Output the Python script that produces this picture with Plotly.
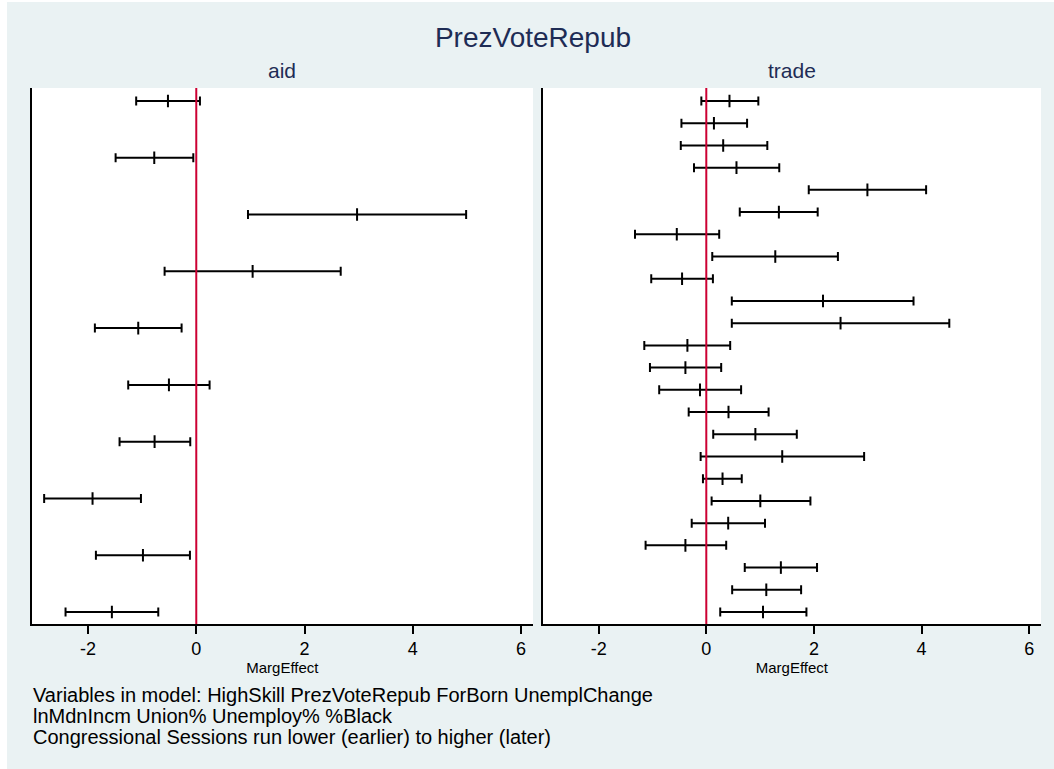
import plotly.graph_objects as go

W, H = 1054, 769

# ---- data (listed top row to bottom row) ----
aid_row = [10, 9, 8, 7, 6, 5, 4, 3, 2, 1]
aid_lo = [-1.11, -1.49, 0.955, -0.585, -1.873, -1.257, -1.417, -2.81, -1.854, -2.415]
aid_est = [-0.523, -0.776, 2.97, 1.041, -1.072, -0.505, -0.77, -1.916, -0.985, -1.559]
aid_hi = [0.068, -0.055, 4.985, 2.668, -0.271, 0.246, -0.111, -1.022, -0.117, -0.702]

trade_row = [24, 23, 22, 21, 20, 19, 18, 17, 16, 15, 14, 13,
             12, 11, 10, 9, 8, 7, 6, 5, 4, 3, 2, 1]
trade_lo = [-0.092, -0.462, -0.474, -0.228, 1.904, 0.622, -1.325, 0.111, -1.023, 0.474, 0.474, -1.152,
            -1.047, -0.875, -0.327, 0.129, -0.105, -0.062, 0.099, -0.271, -1.128, 0.715, 0.481, 0.259]
trade_est = [0.431, 0.142, 0.314, 0.561, 2.994, 1.349, -0.548, 1.282, -0.45, 2.169, 2.495, -0.351,
             -0.388, -0.117, 0.413, 0.912, 1.411, 0.302, 1.004, 0.407, -0.388, 1.386, 1.115, 1.054]
trade_hi = [0.967, 0.758, 1.134, 1.356, 4.085, 2.07, 0.24, 2.446, 0.123, 3.851, 4.516, 0.444,
            0.277, 0.647, 1.158, 1.682, 2.933, 0.659, 1.935, 1.091, 0.37, 2.058, 1.762, 1.861]

x_tickvals = [-2, 0, 2, 4, 6]
x_ticktext = ["-2", "0", "2", "4", "6"]
panel_titles = ["aid", "trade"]
main_title = "PrezVoteRepub"
x_title = "MargEffect"
note_lines = [
    "Variables in model: HighSkill PrezVoteRepub ForBorn UnemplChange",
    "lnMdnIncm Union% Unemploy% %Black",
    "Congressional Sessions run lower (earlier) to higher (later)",
]

# ---- styling ----
FONT = "Liberation Sans, Arial, sans-serif"
BG = "#EAF2F3"
NAVY = "#1e2c55"
RED = "#CC0033"

xd1 = [31.7 / W, 533 / W]
xd2 = [542.7 / W, 1041 / W]
yd = [1 - 624 / H, 1 - 88 / H]
xrange = [-3.04, 6.22]
aid_yrange = [1 - 12 / 56.78, 10 + 13 / 56.78]
trade_yrange = [1 - 12 / 22.217, 24 + 13 / 22.217]

fig = go.Figure()


def add_panel(rows, lo, est, hi, xa, ya):
    fig.add_trace(go.Scatter(
        x=est, y=rows, mode="markers", xaxis=xa, yaxis=ya,
        marker=dict(symbol="line-ns", size=9, color="black",
                    line=dict(width=2, color="black")),
        error_x=dict(type="data", symmetric=False,
                     array=[h - e for h, e in zip(hi, est)],
                     arrayminus=[e - l for e, l in zip(est, lo)],
                     color="black", thickness=2, width=4.5),
        showlegend=False, hoverinfo="x+y",
    ))


add_panel(aid_row, aid_lo, aid_est, aid_hi, "x", "y")
add_panel(trade_row, trade_lo, trade_est, trade_hi, "x2", "y2")

xcommon = dict(range=xrange, tickvals=x_tickvals, ticktext=x_ticktext,
               showline=True, linecolor="black", linewidth=1.5,
               ticks="outside", ticklen=8, tickwidth=1.5, tickcolor="black",
               showgrid=False, zeroline=False,
               tickfont=dict(family=FONT, size=18, color="black"),
               title=dict(text=x_title, font=dict(family=FONT, size=15, color="black"),
                          standoff=0))
ycommon = dict(showline=True, linecolor="black", linewidth=1.5,
               showticklabels=False, ticks="", showgrid=False, zeroline=False,
               domain=yd)

fig.update_layout(
    width=W, height=H,
    margin=dict(l=0, r=0, t=0, b=0),
    paper_bgcolor="white",
    plot_bgcolor="white",
    font=dict(family=FONT, color="black"),
    xaxis=dict(domain=xd1, anchor="y", **xcommon),
    xaxis2=dict(domain=xd2, anchor="y2", **xcommon),
    yaxis=dict(anchor="x", range=aid_yrange, **ycommon),
    yaxis2=dict(anchor="x2", range=trade_yrange, **ycommon),
    title=dict(text=main_title, x=533 / W, xanchor="center",
               y=1 - 36.7 / H, yanchor="middle", yref="container",
               font=dict(family=FONT, size=28, color=NAVY)),
    showlegend=False,
)

shapes = [
    dict(type="rect", xref="paper", yref="paper", x0=7 / W, x1=1, y0=0, y1=1 - 2 / H,
         fillcolor=BG, line=dict(width=0), layer="below"),
    dict(type="rect", xref="x domain", yref="y domain", x0=0, x1=1, y0=0, y1=1,
         fillcolor="white", line=dict(width=0), layer="below"),
    dict(type="rect", xref="x2 domain", yref="y2 domain", x0=0, x1=1, y0=0, y1=1,
         fillcolor="white", line=dict(width=0), layer="below"),
    dict(type="line", xref="x", yref="y domain", x0=0, x1=0, y0=0, y1=1,
         line=dict(color=RED, width=2), layer="above"),
    dict(type="line", xref="x2", yref="y2 domain", x0=0, x1=0, y0=0, y1=1,
         line=dict(color=RED, width=2), layer="above"),
]
fig.update_layout(shapes=shapes)

annotations = []
for i, t in enumerate(panel_titles):
    d = xd1 if i == 0 else xd2
    annotations.append(dict(text=t, x=(d[0] + d[1]) / 2, y=1 - 70 / H,
                            xref="paper", yref="paper", xanchor="center", yanchor="middle",
                            showarrow=False, font=dict(family=FONT, size=21, color=NAVY)))
for i, t in enumerate(note_lines):
    annotations.append(dict(text=t, x=31 / W, y=1 - (694.7 + 21 * i) / H,
                            xref="paper", yref="paper", xanchor="left", yanchor="middle",
                            showarrow=False, font=dict(family=FONT, size=20, color="black")))
fig.update_layout(annotations=annotations)

fig.write_html("out.html", config={"displayModeBar": False},
               post_script="document.body.style.margin='0px';document.body.style.overflow='hidden';")
